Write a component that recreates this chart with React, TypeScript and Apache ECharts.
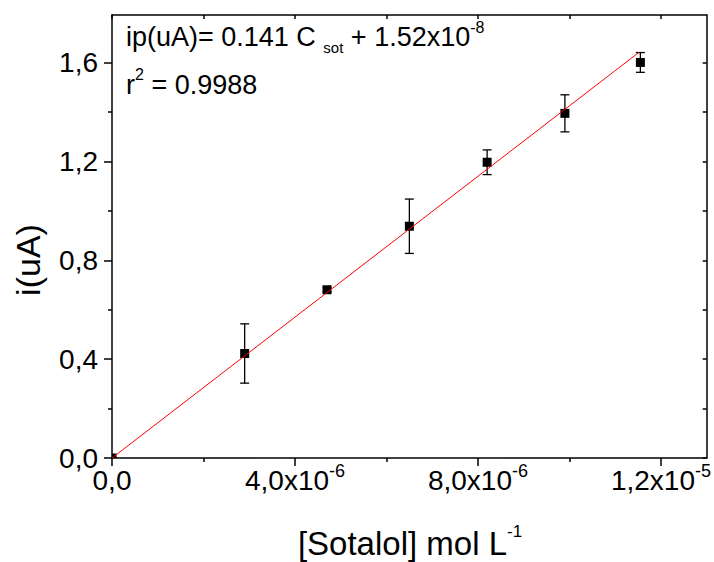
import React, { useEffect, useRef } from 'react';
import * as echarts from 'echarts';

// ---- data ----
const concentration = [0, 2.9e-6, 4.7e-6, 6.5e-6, 8.2e-6, 9.9e-6, 1.155e-5];
const current = [0.0, 0.423, 0.681, 0.938, 1.197, 1.395, 1.601];
const currentError = [0, 0.12, 0.008, 0.11, 0.05, 0.075, 0.04];
const fitX = [0, 1.152e-5];
const fitY = [0, 1.642];

const xMajorTicks = [0, 4e-6, 8e-6, 1.2e-5];
const xMinorTicks = [2e-6, 6e-6, 1e-5];
const xAllTicks = [0, 2e-6, 4e-6, 6e-6, 8e-6, 1e-5, 1.2e-5];
const yMajorTicks = [0, 0.4, 0.8, 1.2, 1.6];
const yMinorTicks = [0.2, 0.6, 1.0, 1.4];
const yAllTicks = [0, 0.2, 0.4, 0.6, 0.8, 1.0, 1.2, 1.4, 1.6];

const X_MIN = 0;
const X_MAX = 1.3e-5;
const Y_MIN = 0;
const Y_MAX = 1.793;

const FONT = "'Liberation Sans', Arial, Helvetica, sans-serif";

function xLabel(v: number): string {
  if (v === 0) return '{a|0,0}';
  const exp = Math.floor(Math.log10(v) + 1e-9);
  const mant = (v / Math.pow(10, exp)).toFixed(1).replace('.', ',');
  return `{a|${mant}x10}{s|${exp}}`;
}

function yLabel(v: number): string {
  return v.toFixed(1).replace('.', ',');
}

export default function App() {
  const ref = useRef<HTMLDivElement>(null);

  useEffect(() => {
    if (!ref.current) return;
    const chart = echarts.init(ref.current, null, { renderer: 'svg' });

    const axisLineStyle = { color: '#000', width: 1.5 };
    const grid = { left: 112, top: 15, width: 596, height: 443, containLabel: false };

    const option: any = {
      animation: false,
      backgroundColor: '#fff',
      grid,
      xAxis: [
        {
          type: 'value',
          position: 'bottom',
          min: X_MIN,
          max: X_MAX,
          axisLine: { show: true, onZero: false, lineStyle: axisLineStyle },
          axisTick: { show: true, inside: false, length: 8, lineStyle: axisLineStyle, customValues: xMajorTicks },
          axisLabel: {
            show: true,
            customValues: xMajorTicks,
            margin: 4,
            formatter: (v: number) => xLabel(v),
            rich: {
              a: { fontFamily: FONT, fontSize: 28, color: '#000', lineHeight: 36, verticalAlign: 'middle' },
              s: { fontFamily: FONT, fontSize: 18, color: '#000', lineHeight: 16, verticalAlign: 'top' },
            },
          },
          splitLine: { show: false },
        },
        {
          type: 'value',
          position: 'bottom',
          min: X_MIN,
          max: X_MAX,
          axisLine: { show: false, onZero: false },
          axisTick: { show: true, inside: false, length: 4, lineStyle: axisLineStyle, customValues: xMinorTicks },
          axisLabel: { show: false },
          splitLine: { show: false },
        },
        {
          type: 'value',
          position: 'top',
          min: X_MIN,
          max: X_MAX,
          axisLine: { show: true, onZero: false, lineStyle: axisLineStyle },
          axisTick: { show: true, inside: true, length: 4, lineStyle: axisLineStyle, customValues: xAllTicks },
          axisLabel: { show: false },
          splitLine: { show: false },
        },
      ],
      yAxis: [
        {
          type: 'value',
          position: 'left',
          min: Y_MIN,
          max: Y_MAX,
          axisLine: { show: true, onZero: false, lineStyle: axisLineStyle },
          axisTick: { show: true, inside: false, length: 8, lineStyle: axisLineStyle, customValues: yMajorTicks },
          axisLabel: {
            show: true,
            customValues: yMajorTicks,
            margin: 14,
            formatter: (v: number) => yLabel(v),
            fontFamily: FONT,
            fontSize: 28,
            color: '#000',
          },
          splitLine: { show: false },
        },
        {
          type: 'value',
          position: 'left',
          min: Y_MIN,
          max: Y_MAX,
          axisLine: { show: false, onZero: false },
          axisTick: { show: true, inside: false, length: 4, lineStyle: axisLineStyle, customValues: yMinorTicks },
          axisLabel: { show: false },
          splitLine: { show: false },
        },
        {
          type: 'value',
          position: 'right',
          min: Y_MIN,
          max: Y_MAX,
          axisLine: { show: true, onZero: false, lineStyle: axisLineStyle },
          axisTick: { show: true, inside: true, length: 4, lineStyle: axisLineStyle, customValues: yAllTicks },
          axisLabel: { show: false },
          splitLine: { show: false },
        },
      ],
      series: [
        {
          type: 'custom',
          name: 'data',
          xAxisIndex: 0,
          yAxisIndex: 0,
          z: 2,
          clip: true,
          data: concentration.map((c, i) => [c, current[i], currentError[i]]),
          renderItem: (params: any, api: any) => {
            const x = api.value(0);
            const y = api.value(1);
            const e = api.value(2);
            const center = api.coord([x, y]);
            const top = api.coord([x, y + e]);
            const bot = api.coord([x, y - e]);
            const hw = 4.5;
            const ms = 9;
            const st = { stroke: '#000', lineWidth: 1.3 };
            return {
              type: 'group',
              children: [
                { type: 'line', shape: { x1: top[0], y1: top[1], x2: bot[0], y2: bot[1] }, style: st },
                { type: 'line', shape: { x1: top[0] - hw, y1: top[1], x2: top[0] + hw, y2: top[1] }, style: st },
                { type: 'line', shape: { x1: bot[0] - hw, y1: bot[1], x2: bot[0] + hw, y2: bot[1] }, style: st },
                {
                  type: 'rect',
                  shape: { x: center[0] - ms / 2, y: center[1] - ms / 2, width: ms, height: ms },
                  style: { fill: '#000' },
                },
              ],
            };
          },
        },
        {
          type: 'line',
          name: 'fit',
          xAxisIndex: 0,
          yAxisIndex: 0,
          z: 4,
          showSymbol: false,
          symbol: 'none',
          lineStyle: { color: '#ff0000', width: 1 },
          data: fitX.map((x, i) => [x, fitY[i]]),
        },
      ],
      graphic: [
        {
          type: 'text',
          x: 126,
          y: 19.3,
          z: 10,
          style: {
            text: '{a|ip(uA)= 0.141 C }{b|sot}{a| + 1.52x10}{c|-8}',
            align: 'left',
            verticalAlign: 'top',
            rich: {
              a: { fontFamily: FONT, fontSize: 27, fill: '#000', lineHeight: 36, verticalAlign: 'middle' },
              b: { fontFamily: FONT, fontSize: 15, fill: '#000', lineHeight: 8, verticalAlign: 'bottom' },
              c: { fontFamily: FONT, fontSize: 16, fill: '#000', lineHeight: 18, verticalAlign: 'top' },
            },
          },
        },
        {
          type: 'text',
          x: 126,
          y: 66.9,
          z: 10,
          style: {
            text: '{a|r}{c|2}{a| = 0.9988}',
            align: 'left',
            verticalAlign: 'top',
            rich: {
              a: { fontFamily: FONT, fontSize: 27, fill: '#000', lineHeight: 36, verticalAlign: 'middle' },
              c: { fontFamily: FONT, fontSize: 16, fill: '#000', lineHeight: 22, verticalAlign: 'top' },
            },
          },
        },
        {
          type: 'text',
          x: 410,
          y: 523,
          z: 10,
          style: {
            text: '{a|[Sotalol] mol L}{c|-1}',
            align: 'center',
            verticalAlign: 'top',
            rich: {
              a: { fontFamily: FONT, fontSize: 33, fill: '#000', lineHeight: 40, verticalAlign: 'middle' },
              c: { fontFamily: FONT, fontSize: 17, fill: '#000', lineHeight: 16, verticalAlign: 'top' },
            },
          },
        },
        {
          type: 'text',
          x: 28,
          y: 260,
          rotation: Math.PI / 2,
          z: 10,
          style: {
            text: 'i(uA)',
            fontFamily: FONT,
            fontSize: 34,
            fill: '#000',
            align: 'center',
            verticalAlign: 'middle',
          },
        },
      ],
    };

    chart.setOption(option);
    return () => {
      chart.dispose();
    };
  }, []);

  return (
    <div
      ref={ref}
      style={{ position: 'absolute', left: 0, top: 0, width: 714, height: 562, background: '#fff' }}
    />
  );
}
